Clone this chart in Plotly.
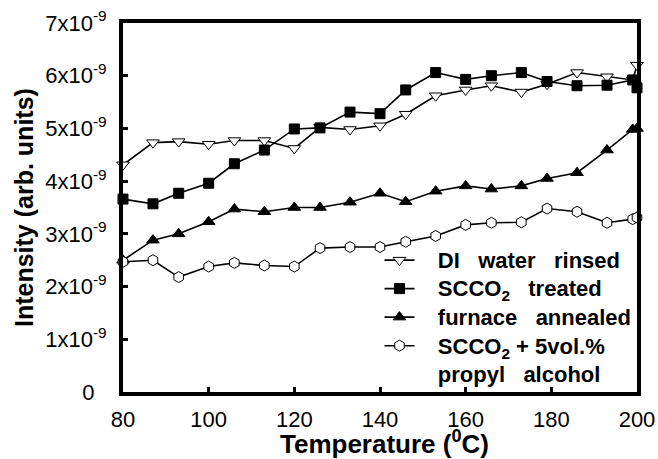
import plotly.graph_objects as go

temps = [80, 87, 93, 100, 106, 113, 120, 126, 133, 140, 146, 153, 160, 166, 173, 179, 186, 193, 199, 200]

di_water = [4.31, 4.73, 4.75, 4.70, 4.77, 4.77, 4.62, 5.02, 4.98, 5.05, 5.27, 5.62, 5.73, 5.81, 5.69, 5.84, 6.06, 5.98, 5.92, 6.20]
scco2 = [3.66, 3.57, 3.77, 3.96, 4.33, 4.59, 4.99, 5.01, 5.31, 5.28, 5.73, 6.06, 5.93, 6.00, 6.06, 5.89, 5.81, 5.82, 5.92, 5.77]
furnace = [2.50, 2.88, 3.00, 3.23, 3.47, 3.42, 3.50, 3.50, 3.60, 3.77, 3.61, 3.81, 3.91, 3.85, 3.91, 4.05, 4.16, 4.59, 4.98, 5.00]
scco2_ipa = [2.47, 2.50, 2.18, 2.38, 2.45, 2.40, 2.38, 2.73, 2.75, 2.75, 2.85, 2.96, 3.17, 3.21, 3.22, 3.48, 3.42, 3.21, 3.28, 3.31]

PAD = "\u00a0\u00a0\u00a0"
GAP = "\u00a0 \u00a0"
series_names = [
    f"{PAD}DI{GAP}water{GAP}rinsed",
    f"{PAD}SCCO<sub>2</sub>{GAP}treated",
    f"{PAD}furnace{GAP}annealed",
    f"{PAD}SCCO<sub>2</sub>\u00a0+ 5vol.%<br>{PAD}propyl{GAP}alcohol",
]
legend_ids = ["legend", "legend", "legend", "legend2"]

x_title = "Temperature (<sup>0</sup>C)"
y_title = "Intensity (arb. units)"

y_tickvals = [0, 1, 2, 3, 4, 5, 6, 7]
y_ticktext = ["0\u00a0\u00a0", "1x10<sup>-9</sup>", "2x10<sup>-9</sup>", "3x10<sup>-9</sup>", "4x10<sup>-9</sup>",
              "5x10<sup>-9</sup>", "6x10<sup>-9</sup>", "7x10<sup>-9</sup>"]
x_tickvals = [80, 100, 120, 140, 160, 180, 200]

FONT = "Liberation Sans, Arial, sans-serif"

styles = [
    dict(symbol="triangle-down", size=11, color="white"),
    dict(symbol="square", size=10, color="black"),
    dict(symbol="triangle-up", size=11, color="black"),
    dict(symbol="hexagon", size=11, color="white"),
]


def styled(name):
    parts = name.split("<br>")
    return "<br>".join(f'<span style="font-size:22px">{p}</span>' for p in parts)


fig = go.Figure()
for i, (name, vals) in enumerate(zip(series_names, [di_water, scco2, furnace, scco2_ipa])):
    st = styles[i]
    fig.add_trace(go.Scatter(
        x=temps, y=vals, name=styled(name),
        mode="lines+markers",
        line=dict(color="black", width=1.6),
        marker=dict(symbol=st["symbol"], size=st["size"], color=st["color"],
                    line=dict(color="black", width=1)),
        cliponaxis=False, legendgroup=f"g{i}", legend=legend_ids[i],
    ))

legend_common = dict(
    xanchor="left", yanchor="top", bgcolor="rgba(0,0,0,0)", borderwidth=0,
    valign="top", tracegroupgap=0,
)

fig.update_layout(
    width=658, height=459,
    margin=dict(l=123, r=21, t=23, b=67),
    paper_bgcolor="white", plot_bgcolor="white",
    font=dict(family=FONT, color="black", size=22),
    showlegend=True,
    legend=dict(x=0.499, y=0.4095,
                font=dict(family=FONT, size=19.6, color="black", weight="bold"),
                **legend_common),
    legend2=dict(x=0.499, y=0.181,
                 font=dict(family=FONT, size=21.5, color="black", weight="bold"),
                 **legend_common),
    xaxis=dict(
        range=[80, 200], tickvals=x_tickvals, ticks="inside", ticklen=5, tickwidth=3,
        tickcolor="black", showline=True, linecolor="black", linewidth=4, mirror=True,
        showgrid=False, zeroline=False, automargin=False, ticklabelstandoff=5,
        tickfont=dict(family=FONT, size=22, color="black"),
    ),
    yaxis=dict(
        range=[0, 7], tickvals=y_tickvals, ticktext=y_ticktext, ticks="inside", ticklen=5, tickwidth=3,
        tickcolor="black", showline=True, linecolor="black", linewidth=4, mirror=True,
        showgrid=False, zeroline=False, ticklabelstandoff=8, automargin=False,
        tickfont=dict(family=FONT, size=22, color="black"),
    ),
    annotations=[
        dict(text=x_title, xref="paper", yref="paper", x=0.5097, y=-0.136,
             xanchor="center", yanchor="middle", showarrow=False,
             font=dict(family=FONT, size=26, color="black", weight="bold")),
        dict(text=y_title, xref="paper", yref="paper", x=-0.1926, y=0.4986,
             xanchor="center", yanchor="middle", showarrow=False, textangle=-90,
             font=dict(family=FONT, size=25, color="black", weight="bold")),
    ],
)

fig.write_html("out.html")
